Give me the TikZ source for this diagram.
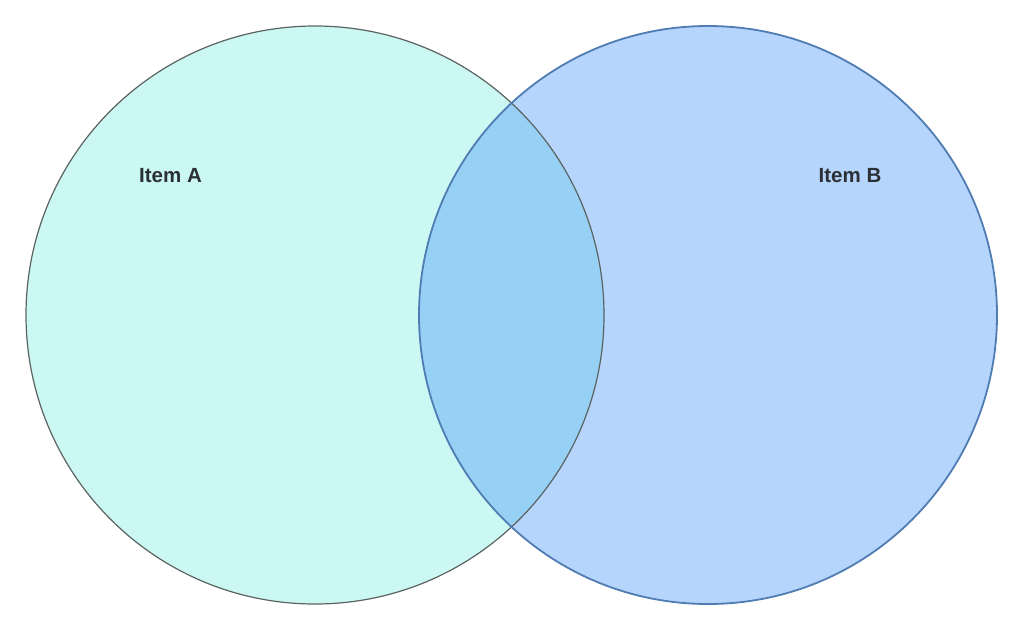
\documentclass[tikz,border=0pt]{standalone}
\usepackage{fontspec}
\setmainfont{Liberation Sans}
\definecolor{fillA}{HTML}{CCF8F3}
\definecolor{fillB}{HTML}{B5D5FC}
\definecolor{fillAB}{HTML}{96D0F5}
\definecolor{lineA}{HTML}{5A6360}
\definecolor{lineB}{HTML}{4F7DB3}
\definecolor{txt}{HTML}{2B3035}
\tikzset{
  lbl/.style={font=\bfseries\fontsize{20.5}{24}\selectfont, text=txt, inner sep=0pt},
}
\begin{document}
\begin{tikzpicture}[x=1pt,y=-1pt]
\useasboundingbox (0,0) rectangle (1024,633);
\fill[fillA] (315,315) circle (289);
\fill[fillB] (708,315) circle (289);
\begin{scope}
\clip (315,315) circle (289);
\fill[fillAB] (708,315) circle (289);
\end{scope}
\draw[lineA, line width=1.2pt] (315,315) circle (289);
\draw[lineB, line width=1.8pt] (708,315) circle (289);
\node[lbl] (a) at (170.5,176) {Item A};
\node[lbl] (b) at (850,176) {Item B};
\end{tikzpicture}
\end{document}
